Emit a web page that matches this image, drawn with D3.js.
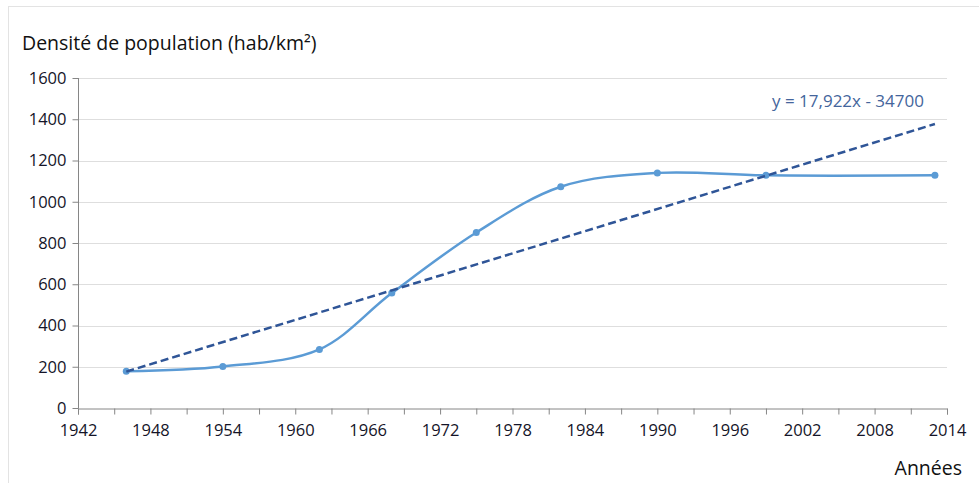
<!DOCTYPE html>
<html>
<head>
<meta charset="utf-8">
<script src="https://cdn.jsdelivr.net/npm/d3@7"></script>
<style>
  body { margin: 0; background: #fff; }
  text { font-family: "Open Sans", "Noto Sans", sans-serif; }
</style>
</head>
<body>
<svg id="chart" width="979" height="483"></svg>
<script>
// data
var years = [1946, 1954, 1962, 1968, 1975, 1982, 1990, 1999, 2013];
var density = [178, 201, 284, 557, 851, 1073, 1140, 1128, 1128];
var xTicks = [1942, 1948, 1954, 1960, 1966, 1972, 1978, 1984, 1990, 1996, 2002, 2008, 2014];
var yTicks = [0, 200, 400, 600, 800, 1000, 1200, 1400, 1600];
// trend line as printed on the chart
var trendSlope = 17.922, trendIntercept = -34700;
var trendLabel = "y = 17,922x - 34700";

var svg = d3.select("#chart");

var x = d3.scaleLinear().domain([1942, 2014]).range([78, 947]);
var y = d3.scaleLinear().domain([0, 1600]).range([408, 78]);

// outer frame
svg.append("rect")
  .attr("x", 8.5).attr("y", 6.5)
  .attr("width", 1000).attr("height", 500)
  .attr("fill", "none")
  .attr("stroke", "#e3e3e3");

// grid
svg.append("g").selectAll("line")
  .data(yTicks.slice(1))
  .enter().append("line")
  .attr("x1", x(1942)).attr("x2", x(2014))
  .attr("y1", function(d) { return Math.round(y(d)) + 0.5; })
  .attr("y2", function(d) { return Math.round(y(d)) + 0.5; })
  .attr("stroke", "#dedede");

// axes
var yAxis = d3.axisLeft(y).tickValues(yTicks).tickSize(6).tickPadding(6).tickFormat(d3.format("d"));
var gy = svg.append("g").attr("transform", "translate(" + (x(1942) + 0.5) + ",0)").call(yAxis);

var minor = d3.range(1942, 2015, 3);
var xAxis = d3.axisBottom(x).tickValues(minor).tickSize(6).tickPadding(10)
  .tickFormat(function(d) { return xTicks.indexOf(d) >= 0 ? d : ""; });
var gx = svg.append("g").attr("transform", "translate(0," + (Math.round(y(0)) + 0.5) + ")").call(xAxis);

[gx, gy].forEach(function(g) {
  g.select(".domain").attr("stroke", "#868686");
  g.selectAll(".tick line").attr("stroke", "#868686");
  g.selectAll(".tick text").attr("fill", "#141428").style("font-size", "16.5px")
    .style("font-family", "'Open Sans', sans-serif");
});
gy.select(".domain").attr("d", "M0," + y(1600) + "V" + (Math.round(y(0)) + 0.5));

// series
var pts = years.map(function(d, i) { return [d, density[i]]; });
var line = d3.line()
  .x(function(d) { return x(d[0]); })
  .y(function(d) { return y(d[1]); })
  .curve(d3.curveCatmullRom.alpha(0.5));

svg.append("path")
  .datum(pts)
  .attr("d", line)
  .attr("fill", "none")
  .attr("stroke", "#5b9bd5")
  .attr("stroke-width", 2.5);

svg.append("g").selectAll("circle")
  .data(pts)
  .enter().append("circle")
  .attr("cx", function(d) { return x(d[0]); })
  .attr("cy", function(d) { return y(d[1]); })
  .attr("r", 3.5)
  .attr("fill", "#5b9bd5");

// trend
var t0 = years[0], t1 = years[years.length - 1];
svg.append("line")
  .attr("x1", x(t0)).attr("y1", y(trendSlope * t0 + trendIntercept))
  .attr("x2", x(t1)).attr("y2", y(trendSlope * t1 + trendIntercept))
  .attr("stroke", "#2f5597")
  .attr("stroke-width", 2.5)
  .attr("stroke-dasharray", "8,4");

svg.append("text")
  .attr("x", 772).attr("y", 107)
  .attr("fill", "#44659c")
  .style("font-size", "17px")
  .text(trendLabel);

// titles
svg.append("text")
  .attr("x", 22).attr("y", 50)
  .attr("fill", "#111")
  .style("font-size", "19.5px")
  .text("Densité de population (hab/km²)");

svg.append("text")
  .attr("x", 962).attr("y", 475)
  .attr("text-anchor", "end")
  .attr("fill", "#111")
  .style("font-size", "19.5px")
  .text("Années");
</script>
</body>
</html>
